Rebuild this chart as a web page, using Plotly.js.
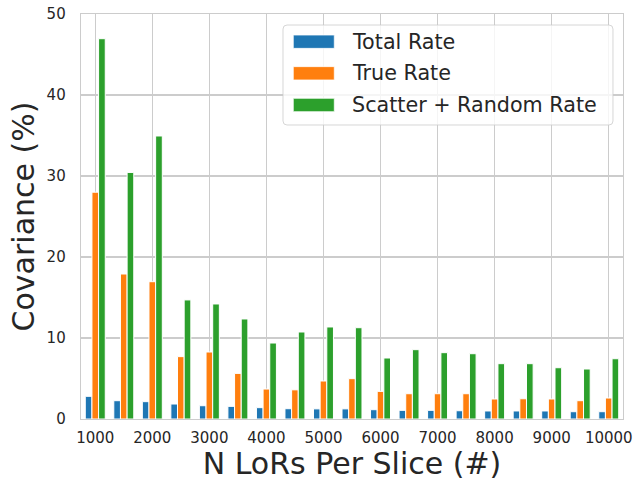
<!DOCTYPE html>
<html>
<head>
<meta charset="utf-8">
<script src="https://cdn.plot.ly/plotly-3.0.1.min.js"></script>
<style>
  html, body { margin: 0; padding: 0; background: #ffffff; }
  #chart { width: 635px; height: 481px; }
</style>
</head>
<body>
<div id="chart"></div>
<script>
// ---- data ----
var nLors = [1000, 1500, 2000, 2500, 3000, 3500, 4000, 4500, 5000, 5500,
             6000, 6500, 7000, 7500, 8000, 8500, 9000, 9500, 10000];
var totalRate = [2.8, 2.26, 2.14, 1.85, 1.64, 1.56, 1.4, 1.27, 1.25, 1.25,
                 1.15, 1.07, 1.07, 1.02, 0.99, 0.99, 0.99, 0.9, 0.9];
var trueRate = [28.0, 17.9, 16.95, 7.7, 8.27, 5.63, 3.7, 3.6, 4.69, 4.98,
                3.41, 3.12, 3.12, 3.12, 2.47, 2.5, 2.47, 2.26, 2.59];
var scatterRandomRate = [46.95, 30.44, 34.94, 14.7, 14.2, 12.35, 9.38, 10.74, 11.36, 11.27,
                         7.53, 8.56, 8.19, 8.06, 6.83, 6.83, 6.33, 6.17, 7.44];
var seriesNames = ["Total Rate", "True Rate", "Scatter + Random Rate"];
var seriesColors = ["#1f77b4", "#ff7f0e", "#2ca02c"];
var xTickVals = [1000, 2000, 3000, 4000, 5000, 6000, 7000, 8000, 9000, 10000];
var xTickText = ["1000", "2000", "3000", "4000", "5000", "6000", "7000", "8000", "9000", "10000"];
var yTickVals = [0, 10, 20, 30, 40, 50];
var xTitle = "N LoRs Per Slice (#)";
var yTitle = "Covariance (%)";

var seriesValues = [totalRate, trueRate, scatterRandomRate];
var FONT = "DejaVu Sans, Verdana, sans-serif";
var TXT = "#262626";

var traces = seriesValues.map(function (vals, i) {
  return {
    type: "bar",
    x: nLors,
    y: vals,
    name: seriesNames[i],
    showlegend: false,
    marker: { color: seriesColors[i], line: { color: "#ffffff", width: 1 } },
    hoverinfo: "x+y+name"
  };
});

// ---- custom legend (matplotlib-like wide swatches) ----
var lx0 = 0.3727, lx1 = 0.9815, ly0 = 0.7259, ly1 = 0.9728;
var rx = 4 / 542, ry = 4 / 405;
var boxPath = "M" + (lx0 + rx) + "," + ly1 +
  " L" + (lx1 - rx) + "," + ly1 + " Q" + lx1 + "," + ly1 + " " + lx1 + "," + (ly1 - ry) +
  " L" + lx1 + "," + (ly0 + ry) + " Q" + lx1 + "," + ly0 + " " + (lx1 - rx) + "," + ly0 +
  " L" + (lx0 + rx) + "," + ly0 + " Q" + lx0 + "," + ly0 + " " + lx0 + "," + (ly0 + ry) +
  " L" + lx0 + "," + (ly1 - ry) + " Q" + lx0 + "," + ly1 + " " + (lx0 + rx) + "," + ly1 + " Z";

var shapes = [{
  type: "path", xref: "paper", yref: "paper", path: boxPath,
  fillcolor: "rgba(255,255,255,0.8)", line: { color: "rgba(204,204,204,0.8)", width: 1 },
  layer: "above"
}];
var annotations = [];
var rowCenters = [0.9316, 0.8536, 0.7753];
var sh = 6.65 / 405;
seriesNames.forEach(function (nm, i) {
  shapes.push({
    type: "rect", xref: "paper", yref: "paper",
    x0: 0.3917, x1: 0.4673, y0: rowCenters[i] - sh, y1: rowCenters[i] + sh,
    fillcolor: seriesColors[i], line: { color: "rgba(255,255,255,0.7)", width: 1 },
    layer: "above"
  });
  annotations.push({
    xref: "paper", yref: "paper", x: 0.4963, y: rowCenters[i],
    xanchor: "left", yanchor: "middle", showarrow: false,
    text: nm, font: { family: FONT, size: 20.7, color: TXT }
  });
});

var layout = {
  width: 635, height: 481,
  margin: { l: 81, r: 12, t: 14, b: 62, pad: 0 },
  paper_bgcolor: "#ffffff", plot_bgcolor: "#ffffff",
  barmode: "group", bargap: 0.3, bargroupgap: 0,
  font: { family: FONT, color: TXT },
  showlegend: false,
  xaxis: {
    type: "linear", range: [750, 10250],
    tickmode: "array", tickvals: xTickVals, ticktext: xTickText,
    tickfont: { family: FONT, size: 15, color: TXT },
    ticks: "", ticklabelstandoff: 5,
    showgrid: true, gridcolor: "#cccccc", gridwidth: 1.2,
    zeroline: false,
    showline: true, linecolor: "#cccccc", linewidth: 1.3, mirror: true,
    title: { text: xTitle, font: { family: FONT, size: 30, color: TXT }, standoff: 5 },
    automargin: false
  },
  yaxis: {
    range: [0, 50],
    tickmode: "array", tickvals: yTickVals,
    tickfont: { family: FONT, size: 15, color: TXT },
    ticks: "", ticklabelstandoff: 11,
    showgrid: true, gridcolor: "#cccccc", gridwidth: 1.2,
    zeroline: false,
    showline: true, linecolor: "#cccccc", linewidth: 1.3, mirror: true,
    title: { text: yTitle, font: { family: FONT, size: 30, color: TXT }, standoff: 3 },
    automargin: false
  },
  shapes: shapes,
  annotations: annotations
};

Plotly.newPlot("chart", traces, layout, { displayModeBar: false, staticPlot: true });
</script>
</body>
</html>
